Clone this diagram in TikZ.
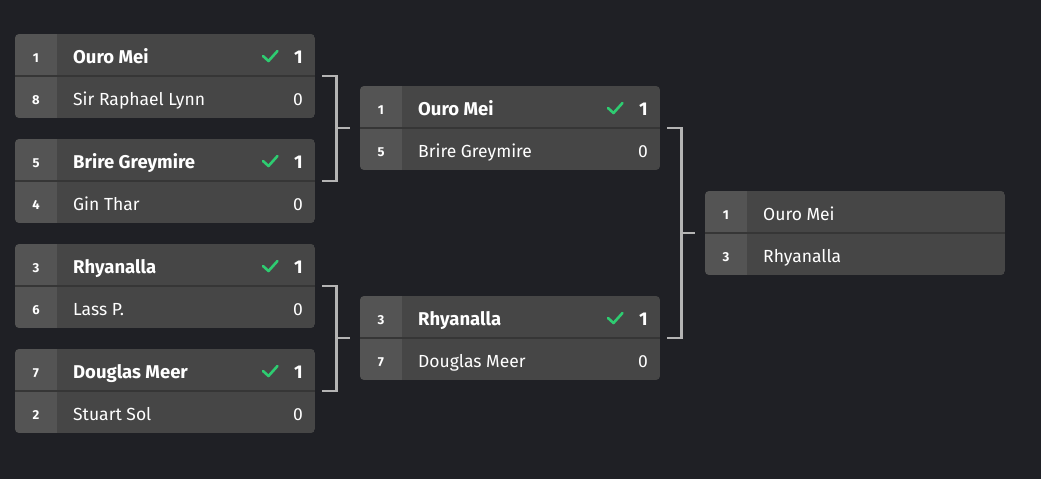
\documentclass[tikz,border=0pt]{standalone}
\usepackage{fontspec}
\setmainfont{Fira Sans}
\definecolor{bgc}{HTML}{1F2025}
\definecolor{seedc}{HTML}{545454}
\definecolor{namec}{HTML}{464646}
\definecolor{sepc}{HTML}{363636}
\definecolor{connc}{HTML}{B4B4B4}
\definecolor{winc}{HTML}{2ECC71}
\tikzset{
  conn/.style={draw=connc, line width=2.4pt},
  seedtxt/.style={text=white, font=\bfseries\fontsize{13}{15}\selectfont, inner sep=0pt, anchor=base},
  nametxt/.style={text=white, font=\fontsize{17.5}{20}\selectfont, inner sep=0pt, anchor=base west},
  wintxt/.style={nametxt, font=\bfseries\fontsize{18.5}{20}\selectfont},
  scoretxt/.style={text=white, font=\fontsize{17.5}{20}\selectfont, inner sep=0pt, anchor=base east},
  winscore/.style={scoretxt, font=\bfseries\fontsize{18.5}{20}\selectfont},
  check/.style={draw=winc, line width=2.6pt, line cap=round, line join=round},
  boxnode/.style={inner sep=0pt, minimum width=300pt, minimum height=84pt, anchor=north west}
}
\newcommand\bbox[3]{% name, x, y
  \begin{scope}
    \clip[rounded corners=4pt] (#2,#3) rectangle ++(300,84);
    \fill[seedc] (#2,#3) rectangle ++(42,84);
    \fill[namec] (#2+42,#3) rectangle ++(258,84);
    \draw[sepc, line width=1.2pt] (#2,#3+42) -- ++(300,0);
  \end{scope}
  \node[boxnode] (#1) at (#2,#3) {};
}
% winner row: name x y seed text score
\newcommand\wrow[6]{%
  \node[seedtxt] (#1s) at (#2+21,#3+28) {#4};
  \node[wintxt] (#1n) at (#2+58,#3+29) {#5};
  \node[winscore] (#1c) at (#2+288,#3+29) {#6};
  \draw[check] (#2+248,#3+22) -- (#2+253.5,#3+27) -- (#2+262.5,#3+17);
}
\newcommand\lrow[6]{%
  \node[seedtxt] (#1s) at (#2+21,#3+28) {#4};
  \node[nametxt] (#1n) at (#2+58,#3+29) {#5};
  \node[scoretxt] (#1c) at (#2+288,#3+29) {#6};
}
\newcommand\frow[5]{%
  \node[seedtxt] (#1s) at (#2+21,#3+28) {#4};
  \node[nametxt] (#1n) at (#2+58,#3+29) {#5};
}
\begin{document}
\begin{tikzpicture}[x=1pt,y=-1pt]
\fill[bgc] (0,0) rectangle (1041,479);
\useasboundingbox (0,0) rectangle (1041,479);
% round 1
\bbox{ma}{15}{34}
\wrow{ma1}{15}{34}{1}{Ouro Mei}{1}
\lrow{ma2}{15}{76}{8}{Sir Raphael Lynn}{0}
\bbox{mb}{15}{139}
\wrow{mb1}{15}{139}{5}{Brire Greymire}{1}
\lrow{mb2}{15}{181}{4}{Gin Thar}{0}
\bbox{mc}{15}{244}
\wrow{mc1}{15}{244}{3}{Rhyanalla}{1}
\lrow{mc2}{15}{286}{6}{Lass P.}{0}
\bbox{md}{15}{349}
\wrow{md1}{15}{349}{7}{Douglas Meer}{1}
\lrow{md2}{15}{391}{2}{Stuart Sol}{0}
% round 2
\bbox{me}{360}{86}
\wrow{me1}{360}{86}{1}{Ouro Mei}{1}
\lrow{me2}{360}{128}{5}{Brire Greymire}{0}
\bbox{mf}{360}{296}
\wrow{mf1}{360}{296}{3}{Rhyanalla}{1}
\lrow{mf2}{360}{338}{7}{Douglas Meer}{0}
% final
\bbox{mg}{705}{191}
\frow{mg1}{705}{191}{1}{Ouro Mei}
\frow{mg2}{705}{233}{3}{Rhyanalla}
% connectors
\draw[conn] ([xshift=7pt]ma.east) -- ([xshift=21pt]ma.east) |- ([xshift=7pt]mb.east);
\draw[conn] ([xshift=-24pt]me.west) -- ([xshift=-10pt]me.west);
\draw[conn] ([xshift=7pt]mc.east) -- ([xshift=21pt]mc.east) |- ([xshift=7pt]md.east);
\draw[conn] ([xshift=-24pt]mf.west) -- ([xshift=-10pt]mf.west);
\draw[conn] ([xshift=7pt]me.east) -- ([xshift=21pt]me.east) |- ([xshift=7pt]mf.east);
\draw[conn] ([xshift=-24pt]mg.west) -- ([xshift=-10pt]mg.west);
\end{tikzpicture}
\end{document}
